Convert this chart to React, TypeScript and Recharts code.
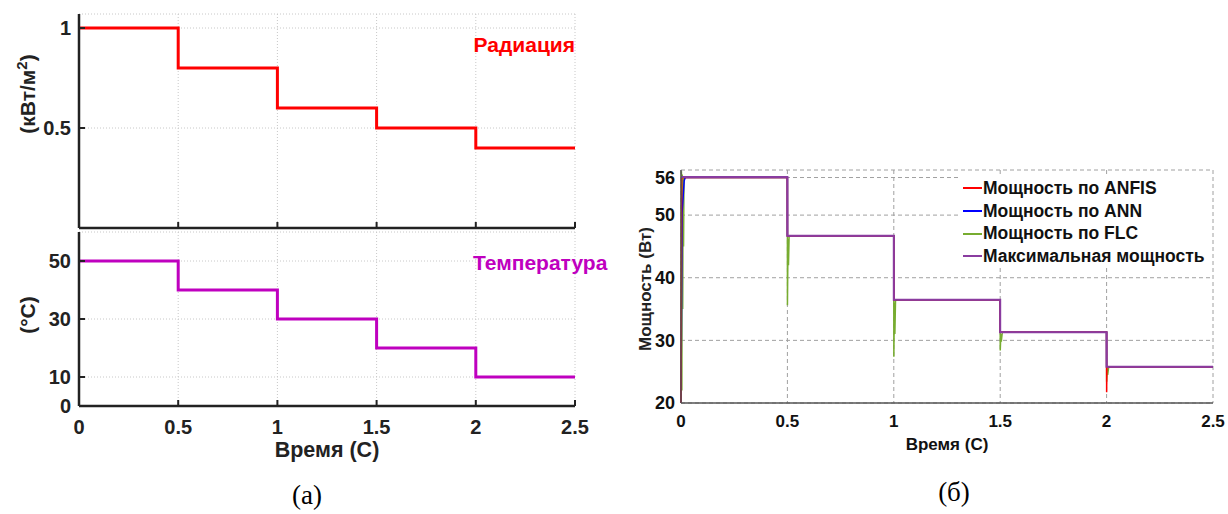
import React from 'react';
import { LineChart, Line, XAxis, YAxis, CartesianGrid, Label } from 'recharts';

const FONT = '"Liberation Sans", Arial, sans-serif';
const SERIF = '"Liberation Serif", "Times New Roman", serif';

// left panel (а): step inputs
const timeTicks = [0, 0.5, 1, 1.5, 2, 2.5];
const stepTime = [0, 0.5, 1, 1.5, 2, 2.5];
const radiation = [1, 0.8, 0.6, 0.5, 0.4, 0.4];
const temperature = [50, 40, 30, 20, 10, 10];
const radiationTicks = [0.5, 1];
const temperatureTicks = [0, 10, 30, 50];

// right panel (б): power tracking
const powerTicks = [20, 30, 40, 50, 56];
const maxTime = [0, 0.5, 1, 1.5, 2, 2.5];
const maxPower = [56.1, 46.7, 36.5, 31.3, 25.8, 25.8];

const anfisTime = [0, 0.003, 0.4998, 0.5002, 0.9998, 1.0002, 1.4998, 1.5002, 1.9998, 2.0002, 2.0012, 2.5];
const anfisPower = [20, 56.0, 56.0, 46.7, 46.7, 36.5, 36.5, 31.3, 31.3, 21.7, 25.8, 25.8];

const annTime = [0, 0.005, 0.015, 0.02, 0.4998, 0.5002, 0.9998, 1.0002, 1.4998, 1.5002, 1.9998, 2.0002, 2.5];
const annPower = [20, 50.3, 55.5, 56.0, 56.0, 46.7, 46.7, 36.5, 36.5, 31.3, 31.3, 25.8, 25.8];

const flcTime = [
  0, 0.002, 0.004, 0.006, 0.008, 0.01, 0.012, 0.014, 0.02,
  0.4998, 0.5002, 0.503, 0.505, 0.508, 0.515,
  0.9998, 1.0002, 1.003, 1.005, 1.008, 1.015,
  1.4998, 1.5002, 1.503, 1.505, 1.51,
  1.9998, 2.0002, 2.003, 2.005, 2.01, 2.5,
];
const flcPower = [
  20, 57, 22, 56.5, 35, 56, 45, 55.8, 56.0,
  56.0, 35.6, 46.2, 42, 46.6, 46.7,
  46.7, 27.4, 36, 31, 36.3, 36.5,
  36.5, 28.4, 31.0, 29.8, 31.3,
  31.3, 23.4, 25.5, 24.5, 25.8, 25.8,
];

const legendItems = [
  { name: 'Мощность по ANFIS', color: '#ff0000' },
  { name: 'Мощность по ANN', color: '#0000ff' },
  { name: 'Мощность по FLC', color: '#77ac30' },
  { name: 'Максимальная мощность', color: '#8a3ca0' },
];

const toPoints = (ts: number[], vs: number[]) => ts.map((t, i) => ({ t, v: vs[i] }));

const radiationData = toPoints(stepTime, radiation);
const temperatureData = toPoints(stepTime, temperature);
const maxData = toPoints(maxTime, maxPower);
const anfisData = toPoints(anfisTime, anfisPower);
const annData = toPoints(annTime, annPower);
const flcData = toPoints(flcTime, flcPower);

const INK = '#222';

// y tick with a short inward mark (matlab style)
const LeftYTick = ({ x, y, payload }: any) => (
  <g>
    <line x1={x + 8} x2={x + 14} y1={y} y2={y} stroke={INK} strokeWidth={2} />
    <text x={x} y={y} dy="0.36em" textAnchor="end" fontFamily={FONT} fontWeight="bold" fontSize={20} fill={INK}>
      {payload.value}
    </text>
  </g>
);

const MarkOnlyXTick = ({ x, y }: any) => (
  <line x1={x} x2={x} y1={y} y2={y - 6} stroke={INK} strokeWidth={2} />
);

const LabeledXTick = ({ x, y, payload }: any) => (
  <g>
    <line x1={x} x2={x} y1={y - 14} y2={y - 20} stroke={INK} strokeWidth={2} />
    <text x={x} y={y} dy="0.71em" textAnchor="middle" fontFamily={FONT} fontWeight="bold" fontSize={20} fill={INK}>
      {payload.value}
    </text>
  </g>
);

const rotated = (cx: number, cy: number, size: number, body: React.ReactNode) => () => (
  <text
    transform={`translate(${cx},${cy}) rotate(-90)`}
    textAnchor="middle"
    dy="0.35em"
    fontFamily={FONT}
    fontWeight="bold"
    fontSize={size}
    fill={INK}
  >
    {body}
  </text>
);

export default function App() {
  return (
    <div style={{ position: 'absolute', left: 0, top: 0, width: 1228, height: 514, background: '#fff', overflow: 'hidden' }}>
      {/* radiation */}
      <div style={{ position: 'absolute', left: 0, top: 0 }}>
        <LineChart width={600} height={240} data={radiationData} margin={{ top: 14, right: 25, left: 0, bottom: 0 }}>
          <CartesianGrid stroke="#c8c8c8" strokeDasharray="1 2" />
          <XAxis
            dataKey="t"
            type="number"
            domain={[0, 2.5]}
            ticks={timeTicks}
            height={12}
            tickSize={0}
            tickMargin={0}
            tickLine={false}
            tick={<MarkOnlyXTick />}
            axisLine={{ stroke: INK, strokeWidth: 2.5 }}
          />
          <YAxis
            type="number"
            domain={[0, 1.07]}
            ticks={radiationTicks}
            width={79}
            tickSize={0}
            tickMargin={8}
            tickLine={false}
            tick={<LeftYTick />}
            axisLine={{ stroke: INK, strokeWidth: 2.5 }}
          >
            <Label
              content={rotated(28, 94, 21, (
                <>
                  (кВт/м<tspan dy={-8} fontSize={15}>2</tspan>
                  <tspan dy={8}>)</tspan>
                </>
              ))}
            />
          </YAxis>
          <Line dataKey="v" type="stepAfter" stroke="#ff0000" strokeWidth={3} dot={false} activeDot={false} isAnimationActive={false} />
        </LineChart>
      </div>

      {/* temperature */}
      <div style={{ position: 'absolute', left: 0, top: 220 }}>
        <LineChart width={600} height={252} data={temperatureData} margin={{ top: 12, right: 25, left: 0, bottom: 0 }}>
          <CartesianGrid stroke="#c8c8c8" strokeDasharray="1 2" />
          <XAxis
            dataKey="t"
            type="number"
            domain={[0, 2.5]}
            ticks={timeTicks}
            height={66}
            tickSize={0}
            tickMargin={14}
            tickLine={false}
            tick={<LabeledXTick />}
            axisLine={{ stroke: INK, strokeWidth: 2.5 }}
          >
            <Label
              value="Время (С)"
              position="insideBottom"
              offset={15}
              style={{ fontFamily: FONT, fontWeight: 'bold', fontSize: 21.5, fill: INK }}
            />
          </XAxis>
          <YAxis
            type="number"
            domain={[0, 60]}
            ticks={temperatureTicks}
            width={79}
            tickSize={0}
            tickMargin={8}
            tickLine={false}
            tick={<LeftYTick />}
            axisLine={{ stroke: INK, strokeWidth: 2.5 }}
          >
            <Label content={rotated(28, 95, 21, '(°C)')} />
          </YAxis>
          <Line dataKey="v" type="stepAfter" stroke="#bf00bf" strokeWidth={3} dot={false} activeDot={false} isAnimationActive={false} />
        </LineChart>
      </div>

      <div style={{ position: 'absolute', left: 455, width: 120, top: 32, textAlign: 'right', color: '#ff0000', fontFamily: FONT, fontWeight: 'bold', fontSize: 21, lineHeight: '26px' }}>
        Радиация
      </div>
      <div style={{ position: 'absolute', left: 473, top: 250, color: '#bf00bf', fontFamily: FONT, fontWeight: 'bold', fontSize: 21, lineHeight: '26px', whiteSpace: 'nowrap' }}>
        Температура
      </div>

      {/* power */}
      <div style={{ position: 'absolute', left: 620, top: 150 }}>
        <LineChart width={608} height={310} margin={{ top: 20, right: 15, left: 0, bottom: 0 }}>
          <CartesianGrid stroke="#a0a0a0" strokeDasharray="4 3" />
          <XAxis
            dataKey="t"
            type="number"
            domain={[0, 2.5]}
            ticks={timeTicks}
            height={57}
            tickSize={0}
            tickMargin={12}
            tickLine={false}
            axisLine={{ stroke: '#555', strokeWidth: 1.5 }}
            tick={{ fontFamily: FONT, fontWeight: 'bold', fontSize: 17, fill: '#111' }}
          >
            <Label
              value="Время (С)"
              position="insideBottom"
              offset={10}
              style={{ fontFamily: FONT, fontWeight: 'bold', fontSize: 17, fill: '#111' }}
            />
          </XAxis>
          <YAxis
            type="number"
            domain={[20, 57.2]}
            ticks={powerTicks}
            width={61}
            tickSize={0}
            tickMargin={6}
            tickLine={false}
            allowDataOverflow
            axisLine={{ stroke: '#555', strokeWidth: 1.5 }}
            tick={{ fontFamily: FONT, fontWeight: 'bold', fontSize: 18, fill: '#111' }}
          >
            <Label content={rotated(25, 139, 17, 'Мощность (Вт)')} />
          </YAxis>
          <Line data={flcData} dataKey="v" type="linear" stroke="#77ac30" strokeWidth={1.5} dot={false} activeDot={false} isAnimationActive={false} />
          <Line data={annData} dataKey="v" type="linear" stroke="#0000ff" strokeWidth={1.5} dot={false} activeDot={false} isAnimationActive={false} />
          <Line data={anfisData} dataKey="v" type="linear" stroke="#ff0000" strokeWidth={1.5} dot={false} activeDot={false} isAnimationActive={false} />
          <Line data={maxData} dataKey="v" type="stepAfter" stroke="#8a3ca0" strokeWidth={2} dot={false} activeDot={false} isAnimationActive={false} />
        </LineChart>
      </div>

      {/* legend box */}
      <div style={{ position: 'absolute', left: 958, top: 177, width: 254, height: 90, background: '#fff', fontFamily: FONT, fontWeight: 'bold', fontSize: 17.5, color: '#111' }}>
        {legendItems.map((it) => (
          <div key={it.name} style={{ display: 'flex', alignItems: 'center', height: 22.7, whiteSpace: 'nowrap' }}>
            <span style={{ display: 'inline-block', width: 19, height: 2, marginLeft: 5, marginRight: 1, background: it.color }} />
            {it.name}
          </div>
        ))}
      </div>

      <div style={{ position: 'absolute', left: 267, width: 80, top: 480, textAlign: 'center', fontFamily: SERIF, fontSize: 27 }}>(а)</div>
      <div style={{ position: 'absolute', left: 914, width: 80, top: 477, textAlign: 'center', fontFamily: SERIF, fontSize: 27 }}>(б)</div>
    </div>
  );
}
